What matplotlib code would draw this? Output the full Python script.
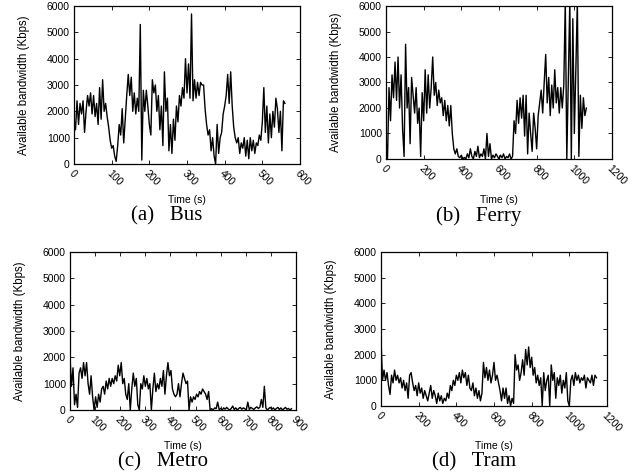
import matplotlib
matplotlib.use("Agg")
import matplotlib.pyplot as plt
import numpy as np

# available bandwidth traces (Kbps)
bus_step = 4
bus = [1700, 1300, 2400, 1500, 2300, 1900, 2400, 1200, 2000, 2600, 2200, 2700,
       1900, 2600, 1800, 2300, 1500, 2900, 1700, 3200, 2000, 2300, 1800, 1400,
       900, 600, 700, 300, 100, 700, 1500, 1100, 2100, 800, 1700, 2600,
       3400, 2600, 3300, 2000, 2700, 1900, 2500, 2000, 5300, 150, 2800, 2000,
       2800, 2200, 1500, 1100, 3200, 2700, 3000, 2000, 2600, 1300, 2200, 700,
       3500, 2000, 2500, 500, 1500, 400, 1700, 900, 2200, 1600, 2600, 2200,
       2900, 2500, 4000, 2700, 3800, 2500, 5700, 2400, 3200, 2500, 3100, 2600,
       3100, 3000, 3000, 2100, 1500, 1100, 1300, 500, 1000, 300, 0, 1500,
       400, 1000, 1200, 1900, 2200, 2600, 3400, 2300, 3500, 2200, 1400, 1000,
       800, 1000, 400, 800, 600, 1000, 300, 900, 200, 1000, 500, 900,
       400, 800, 700, 1100, 900, 1600, 2900, 1200, 2200, 800, 1900, 1000,
       2000, 1400, 2500, 2100, 1200, 2000, 500, 2400, 2300]

ferry_step = 8
ferry = [800, 0, 2800, 1500, 3300, 2400, 3800, 2300, 4000, 2000, 3300, 1200,
         100, 4500, 2000, 2800, 600, 3200, 2500, 1800, 2800, 1400, 2000, 100,
         2600, 1500, 3500, 1800, 3300, 2000, 2800, 4000, 2500, 3000, 2100, 2700,
         2200, 2400, 1700, 2300, 1500, 2100, 1300, 2100, 1000, 400, 200, 400,
         100, 50, 150, 0, 60, 0, 200, 50, 400, 100, 0, 300,
         100, 500, 50, 200, 100, 400, 0, 1000, 100, 600, 0, 150,
         50, 200, 100, 0, 150, 50, 200, 0, 100, 50, 200, 0,
         100, 1500, 1000, 2300, 1400, 2400, 1600, 2500, 900, 2500, 200, 1800,
         1000, 300, 1800, 1200, 400, 1700, 2200, 2700, 1800, 3000, 4100, 2200,
         3200, 1700, 2900, 2000, 3500, 2200, 2800, 1800, 2800, 2000, 2900, 6200,
         0, 3000, 6200, 0, 5500, 1000, 3500, 6200, 100, 2500, 1200, 2400,
         1700, 2000]

metro_step = 6
metro = [2000, 900, 1600, 200, 600, 100, 1400, 1600, 1200, 1800, 1300, 1800,
         1000, 600, 1300, 500, 0, 500, 100, 600, 300, 800, 900, 600,
         1100, 800, 1200, 900, 1200, 1000, 1300, 1100, 1700, 1300, 1800, 1000,
         1200, 600, 400, 1000, 0, 800, 1400, 900, 1200, 200, 0, 1000,
         800, 1300, 900, 1200, 800, 1000, 0, 800, 1400, 700, 1000, 800,
         1200, 900, 1500, 600, 1300, 1800, 1300, 1500, 800, 600, 500, 600,
         1000, 500, 1000, 1400, 1200, 1000, 1100, 0, 500, 300, 500, 400,
         600, 500, 700, 600, 800, 700, 600, 400, 700, 0, 50, 0,
         80, 50, 300, 20, 60, 0, 80, 30, 100, 40, 0, 60,
         150, 20, 80, 0, 60, 100, 30, 80, 50, 0, 300, 20,
         100, 60, 20, 80, 120, 60, 100, 400, 100, 900, 80, 0,
         60, 100, 30, 80, 0, 60, 100, 20, 80, 0, 50, 100,
         30, 60, 0, 50]

tram_step = 8
tram = [2600, 1000, 1400, 1000, 1300, 800, 450, 1200, 900, 1400, 1000, 1200,
        900, 1100, 700, 1000, 600, 900, 300, 1200, 1300, 900, 600, 800,
        400, 900, 500, 700, 300, 600, 400, 200, 500, 800, 300, 600,
        400, 100, 500, 200, 400, 100, 300, 200, 500, 300, 800, 600,
        1000, 800, 1200, 1000, 1300, 900, 1400, 1100, 1300, 800, 1200, 700,
        600, 900, 400, 700, 300, 600, 200, 500, 1700, 1100, 1500, 1000,
        1400, 900, 1200, 1700, 1000, 1200, 900, 600, 200, 700, 300, 700,
        100, 400, 0, 300, 100, 2000, 1400, 1600, 1000, 1300, 1800, 1200,
        2200, 1600, 2300, 1500, 1900, 1200, 1500, 900, 1200, 800, 1100, 0,
        1300, 600, 1000, 1200, 0, 1600, 1000, 1300, 300, 1100, 800, 1200,
        500, 1000, 700, 1300, 200, 0, 1000, 1200, 800, 1300, 1000, 1200,
        900, 1100, 1000, 1200, 700, 1100, 1000, 900, 1200, 800, 1200, 1100]

panels = [
    ("(a)   Bus", bus, bus_step, 600, 100, [74, 300, 6, 164], 200, 216),
    ("(b)   Ferry", ferry, ferry_step, 1200, 200, [386, 612, 6, 159], 200, 216),
    ("(c)   Metro", metro, metro_step, 900, 100, [70, 296, 252, 410], 446, 462),
    ("(d)   Tram", tram, tram_step, 1200, 200, [381, 607, 252, 406], 446, 462),
]

W, H = 641, 476
fig = plt.figure(figsize=(W / 100, H / 100), dpi=100)
sans = ["Liberation Sans", "DejaVu Sans"]
serif = ["Liberation Serif", "DejaVu Serif"]

for title, vals, step, xmax, xstep, (x0, x1, y0, y1), ty, cy in panels:
    ax = fig.add_axes([x0 / W, 1 - y1 / H, (x1 - x0) / W, (y1 - y0) / H])
    t = np.arange(len(vals)) * step
    ax.plot(t, vals, color="black", lw=1.0)
    ax.set_xlim(0, xmax)
    ax.set_ylim(0, 6000)
    ax.set_xticks(np.arange(0, xmax + 1, xstep))
    ax.set_yticks(np.arange(0, 6001, 1000))
    ax.tick_params(direction="in", top=True, right=True, length=3, width=0.6,
                   labelsize=7.5, pad=3)
    for lab in ax.get_xticklabels():
        lab.set_rotation(-45)
        lab.set_ha("left")
        lab.set_va("top")
        lab.set_rotation_mode("anchor")
        lab.set_family(sans)
    for lab in ax.get_yticklabels():
        lab.set_family(sans)
    for s in ax.spines.values():
        s.set_linewidth(0.9)
    xc = (x0 + x1) / 2
    fig.text((x0 - 50) / W, 1 - (y0 + y1) / 2 / H, "Available bandwidth (Kbps)",
             rotation=90, ha="center", va="center", fontsize=8.3, family=sans)
    fig.text(xc / W, 1 - ty / H, "Time (s)", ha="center", va="center",
             fontsize=7.5, family=sans)
    fig.text((xc - 20) / W, 1 - cy / H, title, ha="center", va="center",
             fontsize=15, family=serif)

fig.savefig("out.png", dpi=100)
